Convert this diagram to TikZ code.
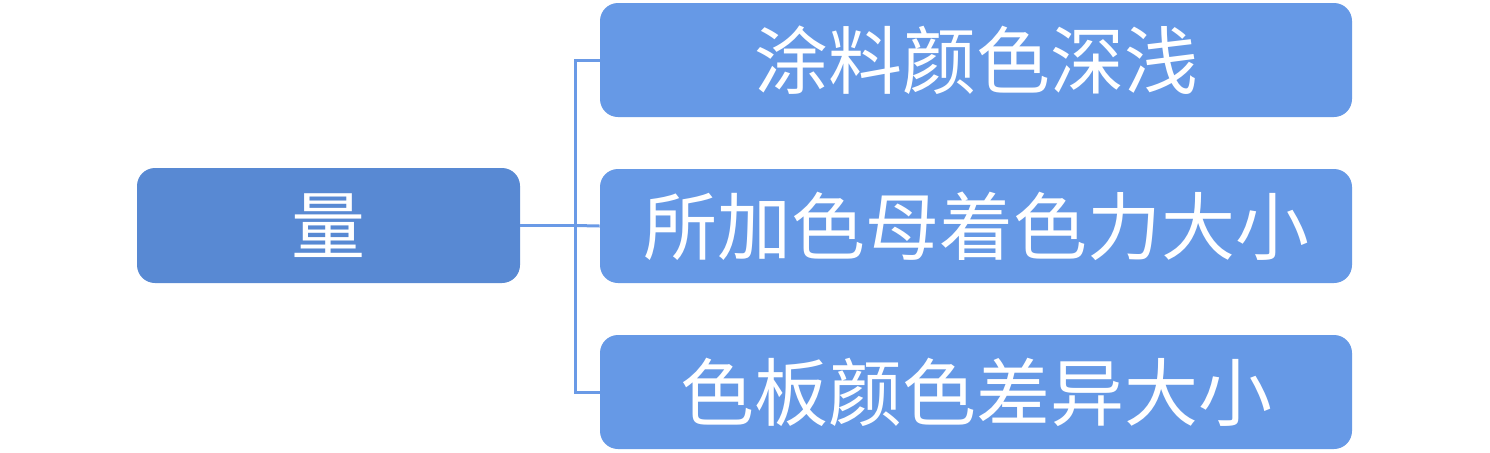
\documentclass[tikz,border=0pt]{standalone}
\usepackage{fontspec}
\newfontfamily\cjk{Noto Sans CJK SC}
\definecolor{rootblue}{HTML}{5889D3}
\definecolor{leafblue}{HTML}{6699E6}
\definecolor{wireblue}{HTML}{6A9AE6}
\tikzset{
  rootbox/.style={fill=rootblue, rounded corners=9pt, minimum width=191.5pt, minimum height=57.5pt,
    text=white, font=\cjk\fontsize{37pt}{40pt}\selectfont, inner sep=0pt},
  leafbox/.style={fill=leafblue, rounded corners=9pt, minimum width=376pt, minimum height=57pt,
    text=white, font=\cjk\fontsize{37pt}{40pt}\selectfont, inner sep=0pt},
  wire/.style={draw=wireblue, line width=1.5pt}
}
\begin{document}
\begin{tikzpicture}[x=0.5pt,y=-0.5pt]
\useasboundingbox[fill=white] (0,0) rectangle (1490,452);
% Drawing boxes
\node[rootbox] (root) at (328.5,225.5) {量};
\node[leafbox] (shade) at (976,60) {涂料颜色深浅};
\node[leafbox] (tint) at (976,226) {所加色母着色力大小};
\node[leafbox] (panel) at (976,392) {色板颜色差异大小};
% Done with boxes; drawing connectors
\coordinate (jn) at (575,225.5);
\draw[wire] (root.east) -- (jn);
\draw[wire] (jn) |- (shade.west);
\draw[wire] (jn) -- (tint.west);
\draw[wire] (jn) |- (panel.west);
% Done with connectors
\end{tikzpicture}
\end{document}
